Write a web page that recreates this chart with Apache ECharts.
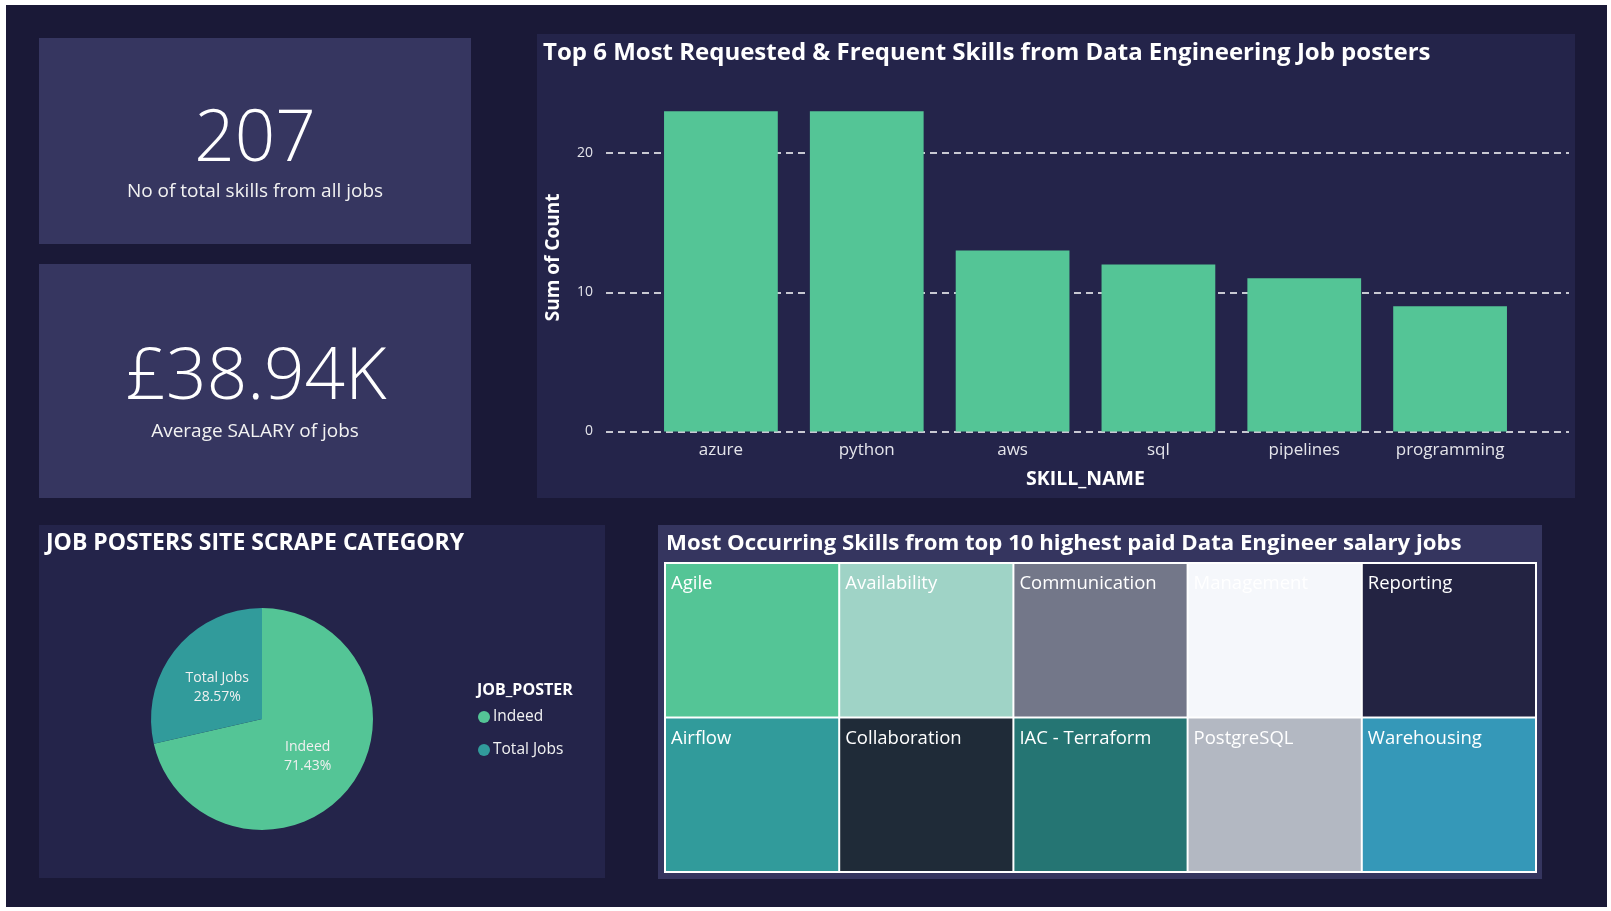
<!DOCTYPE html>
<html>
<head>
<meta charset="utf-8">
<script src="https://cdn.jsdelivr.net/npm/echarts@6/dist/echarts.min.js"></script>
<style>
  html, body { margin: 0; padding: 0; background: #ffffff; }
  #chart { width: 1611px; height: 911px; }
</style>
</head>
<body>
<div id="chart"></div>
<script>
// ---- Data ----
const kpiValues = ['207', '£38.94K'];
const kpiLabels = ['No of total skills from all jobs', 'Average SALARY of jobs'];

const barTitle = 'Top 6 Most Requested & Frequent Skills from Data Engineering Job posters';
const skillNames = ['azure', 'python', 'aws', 'sql', 'pipelines', 'programming'];
const skillCounts = [23, 23, 13, 12, 11, 9];
const yMin = 0, yMax = 25, yInterval = 10;

const pieTitle = 'JOB POSTERS SITE SCRAPE CATEGORY';
const posterNames = ['Indeed', 'Total Jobs'];
const posterCounts = [5, 2];
const posterColors = ['#54c596', '#319b9b'];
const legendTitle = 'JOB_POSTER';

const treeTitle = 'Most Occurring Skills from top 10 highest paid Data Engineer salary jobs';
const treeSkills = ['Agile', 'Airflow', 'Availability', 'Collaboration', 'Communication',
                    'IAC - Terraform', 'Management', 'PostgreSQL', 'Reporting', 'Warehousing'];
const treeCounts = [1, 1, 1, 1, 1, 1, 1, 1, 1, 1];
const treeColors = ['#54c596', '#319b9b', '#9fd3c6', '#1f2b38', '#737789',
                    '#257573', '#f5f7fb', '#b3b8c2', '#232342', '#3598b8'];

// ---- Styles ----
const FONT = '"Open Sans", "Noto Sans", sans-serif';
const TXT = '#f2f2f2';
const OUTER = '#1a1937';
const CARD = '#363660';
const PANEL = '#24244a';
const TREEPANEL = '#35355f';
const GRIDLINE = '#c8c8d2';

function rect(x, y, w, h, fill) {
  return { type: 'rect', z: -10, silent: true, shape: { x: x, y: y, width: w, height: h }, style: { fill: fill } };
}
function text(str, x, y, size, weight, align, color) {
  return {
    type: 'text', z: 10, silent: true, x: x, y: y,
    style: {
      text: str, fill: color || TXT,
      font: (weight || 'normal') + ' ' + size + 'px ' + FONT,
      align: align || 'left', verticalAlign: 'middle',
      textAlign: align || 'left', textVerticalAlign: 'middle'
    }
  };
}

const chart = echarts.init(document.getElementById('chart'), null, { renderer: 'canvas' });

const option = {
  backgroundColor: '#ffffff',
  animation: false,
  textStyle: { fontFamily: FONT },
  graphic: [
    rect(6, 5, 1601, 902, OUTER),
    rect(39, 38, 432, 206, CARD),
    rect(39, 264, 432, 234, CARD),
    rect(537, 34, 1038, 464, PANEL),
    rect(39, 525, 566, 353, PANEL),
    rect(658, 525, 884, 354, TREEPANEL),
    text(kpiValues[0], 255, 141, 71, '300', 'center', '#ffffff'),
    text(kpiLabels[0], 255, 192, 19, 'normal', 'center'),
    text(kpiValues[1], 256, 379, 71, '300', 'center', '#ffffff'),
    text(kpiLabels[1], 255, 432, 19, 'normal', 'center'),
    text(barTitle, 543, 53, 24, 'bold', 'left', '#ffffff'),
    text(pieTitle, 46, 543, 23, 'bold', 'left', '#ffffff'),
    text(treeTitle, 666, 544, 22.2, 'bold', 'left', '#ffffff'),
    text(legendTitle, 477, 690, 16, 'bold', 'left', '#ffffff')
  ],
  grid: [
    { left: 606, right: 42, top: 83.4, bottom: 479.5, containLabel: false },
    { left: 648, right: 88, top: 83.4, bottom: 479.5, containLabel: false }
  ],
  xAxis: [
    { gridIndex: 0, type: 'value', min: 0, max: 1, show: false },
    {
      gridIndex: 1, type: 'category', data: skillNames,
      axisLine: { show: false }, axisTick: { show: false },
      axisLabel: { color: '#e4e4ea', fontSize: 17, margin: 10, fontFamily: FONT },
      name: 'SKILL_NAME', nameLocation: 'middle', nameGap: 38,
      nameTextStyle: { color: '#ffffff', fontSize: 19.5, fontWeight: 'bold', fontFamily: FONT }
    }
  ],
  yAxis: [
    {
      gridIndex: 0, type: 'value', min: yMin, max: yMax, interval: yInterval,
      axisLine: { show: false }, axisTick: { show: false },
      axisLabel: { color: '#e4e4ea', fontSize: 14, margin: 13, showMaxLabel: false, fontFamily: FONT },
      splitLine: { show: true, lineStyle: { color: [GRIDLINE, GRIDLINE, GRIDLINE, 'rgba(0,0,0,0)'], width: 2, type: [7, 5] } },
      name: 'Sum of Count', nameLocation: 'middle', nameGap: 43,
      nameTextStyle: { color: '#ffffff', fontSize: 19, fontWeight: 'bold', fontFamily: FONT }
    },
    { gridIndex: 1, type: 'value', min: yMin, max: yMax, interval: yInterval, show: false, splitLine: { show: false } }
  ],
  legend: {
    data: posterNames, orient: 'vertical', left: 473, top: 704,
    icon: 'circle', itemWidth: 12, itemHeight: 12, itemGap: 17,
    textStyle: { color: TXT, fontSize: 15.5, fontFamily: FONT, padding: [0, 0, 0, -2] },
    selectedMode: false
  },
  series: [
    {
      type: 'bar', xAxisIndex: 1, yAxisIndex: 1,
      data: skillCounts, barWidth: '78%',
      itemStyle: { color: '#54c596' }
    },
    {
      type: 'pie', center: [262, 719], radius: 111,
      startAngle: 90, clockwise: true,
      data: posterNames.map((n, i) => ({
        name: n, value: posterCounts[i], itemStyle: { color: posterColors[i] },
        label: i === 1 ? { offset: [1, 5] } : { offset: [0, 1] }
      })),
      label: {
        show: true, position: 'inside', formatter: '{b}\n{d}%',
        color: '#f0f0f0', fontSize: 14, lineHeight: 19.5, fontFamily: FONT
      },
      labelLine: { show: false },
      itemStyle: { borderWidth: 0 },
      emphasis: { disabled: true }
    },
    {
      type: 'treemap', left: 664, top: 562, width: 873, height: 311,
      roam: false, nodeClick: false, sort: false,
      breadcrumb: { show: false },
      squareRatio: 0.5 * (1 + Math.sqrt(5)),
      data: treeSkills.map((n, i) => ({ name: n, value: treeCounts[i], itemStyle: { color: treeColors[i] } })),
      label: {
        show: true, position: [5, 10.5], color: '#ffffff', fontSize: 18.5,
        fontFamily: FONT, padding: 0, distance: 0
      },
      upperLabel: { show: false },
      levels: [
        { itemStyle: { borderColor: '#ffffff', borderWidth: 2, gapWidth: 2 } },
        { itemStyle: { borderWidth: 0 } }
      ],
      emphasis: { disabled: true }
    }
  ]
};

chart.setOption(option);
</script>
</body>
</html>
